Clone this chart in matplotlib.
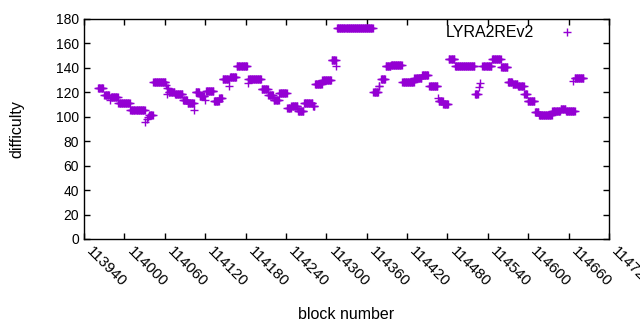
import numpy as np
import matplotlib
matplotlib.use("Agg")
import matplotlib.pyplot as plt

# Runs of constant difficulty: first block, last block, difficulty
run_start = [113961, 113970, 113979, 113980, 113991, 114009, 114031, 114033, 114035, 114037,
             114043, 114062, 114063, 114064, 114066, 114075, 114087, 114094, 114104, 114106,
             114112, 114120, 114121, 114133, 114141, 114146, 114156, 114157, 114167, 114183,
             114184, 114204, 114214, 114222, 114230, 114242, 114248, 114258, 114267, 114280,
             114283, 114294, 114308, 114315, 114316, 114370, 114378, 114381, 114388, 114396,
             114413, 114431, 114442, 114453, 114466, 114467, 114474, 114482, 114491, 114521,
             114527, 114529, 114532, 114546, 114560, 114570, 114577, 114585, 114594, 114599,
             114610, 114616, 114636, 114648, 114656, 114670, 114667, 114669]
run_end = [113968, 113977, 113979, 113990, 114008, 114030, 114031, 114033, 114035, 114042,
           114061, 114062, 114063, 114065, 114074, 114086, 114093, 114103, 114104, 114111,
           114119, 114120, 114132, 114140, 114145, 114155, 114156, 114166, 114182, 114183,
           114203, 114213, 114221, 114229, 114241, 114247, 114257, 114266, 114279, 114282,
           114293, 114307, 114314, 114315, 114369, 114377, 114379, 114387, 114395, 114412,
           114430, 114441, 114451, 114465, 114466, 114473, 114481, 114490, 114520, 114525,
           114527, 114529, 114545, 114559, 114569, 114576, 114584, 114593, 114598, 114609,
           114615, 114635, 114647, 114655, 114668, 114670, 114667, 114682]
run_value = [123.2, 117.5, 113.7, 115.8, 110.9, 105.2, 95.9, 98.1, 100.0, 101.5,
             128.1, 126.0, 119.0, 123.8, 120.2, 118.3, 113.4, 110.9, 105.5, 120.5,
             117.0, 113.7, 120.8, 112.6, 115.0, 130.6, 125.0, 132.2, 141.2, 127.3,
             130.6, 122.6, 117.5, 113.4, 119.1, 107.1, 108.7, 104.4, 111.5, 109.0,
             126.5, 130.0, 146.1, 141.5, 172.3, 120.0, 125.0, 130.8, 141.5, 142.0,
             128.5, 131.9, 133.8, 125.1, 115.0, 112.8, 110.7, 147.2, 141.5, 118.6,
             124.6, 127.3, 141.5, 147.0, 140.4, 128.4, 126.8, 125.1, 118.6, 112.6,
             103.8, 101.4, 104.4, 106.3, 104.7, 105.0, 129.0, 131.4]

x_ticks = list(range(113940, 114721, 60))
y_ticks = list(range(0, 181, 20))

blocks = []
diffs = []
for s, e, v in zip(run_start, run_end, run_value):
    b = np.arange(s, e + 1)
    blocks.append(b)
    diffs.append(np.full(len(b), v))
blocks = np.concatenate(blocks)
diffs = np.concatenate(diffs)

plt.rcParams['font.family'] = ['Liberation Sans', 'DejaVu Sans']
fig = plt.figure(figsize=(6.4, 3.3), dpi=100)
ax = fig.add_axes([84 / 640, 1 - 239 / 330, (609 - 84) / 640, (239 - 19) / 330])
ax.plot(blocks, diffs, linestyle='none', marker='+', markersize=5.5,
        markeredgewidth=1.0, color='#9400D3', label='LYRA2REv2')
ax.set_xlim(113940, 114720)
ax.set_ylim(0, 180)
ax.set_xticks(x_ticks)
ax.set_yticks(y_ticks)
ax.set_xticklabels([str(t) for t in x_ticks], rotation=-45, ha='left', va='bottom',
                   rotation_mode='anchor', fontsize=11)
ax.tick_params(axis='y', labelsize=10)
ax.tick_params(axis='x', pad=11)
ax.tick_params(direction='in', length=4, top=True, right=True, width=1)
for sp in ax.spines.values():
    sp.set_linewidth(1)
ax.set_xlabel('block number', fontsize=11.5)
ax.set_ylabel('difficulty', fontsize=11.5)
ax.xaxis.set_label_coords(0.5, -0.31)
ax.yaxis.set_label_coords(-0.113, 0.5)
ax.legend(loc='upper right', frameon=False, markerfirst=False, fontsize=11.5,
          handlelength=2.5, borderaxespad=0.3, bbox_to_anchor=(0.979, 1.022))
fig.savefig('out.png', dpi=100)
